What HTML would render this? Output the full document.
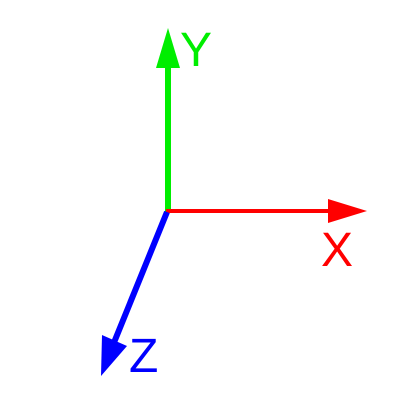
<!DOCTYPE html>
<html><head><style>
html,body{margin:0;padding:0;background:#fff;width:415px;height:415px;overflow:hidden}
svg{display:block}
text{font-family:"Liberation Sans",sans-serif;font-size:48px}
</style></head><body>
<svg width="415" height="415" viewBox="0 0 415 415">
<g>
<line x1="168" y1="212" x2="168" y2="60" stroke="#00ee00" stroke-width="6"/>
<polygon points="168,28 156,68 180,68" fill="#00ee00"/>
</g>
<text x="180" y="66" fill="#00ee00">Y</text>
<g>
<line x1="166" y1="211" x2="335" y2="211" stroke="#ff0000" stroke-width="4"/>
<polygon points="367,211 328,199 328,223" fill="#ff0000"/>
</g>
<text x="321" y="266" fill="#ff0000">X</text>
<g>
<line x1="167" y1="212" x2="113" y2="345" stroke="#0000ff" stroke-width="6"/>
<polygon points="101,376 102,335 127,346" fill="#0000ff"/>
</g>
<text x="129" y="372" fill="#0000ff">Z</text>
</svg>
</body></html>
